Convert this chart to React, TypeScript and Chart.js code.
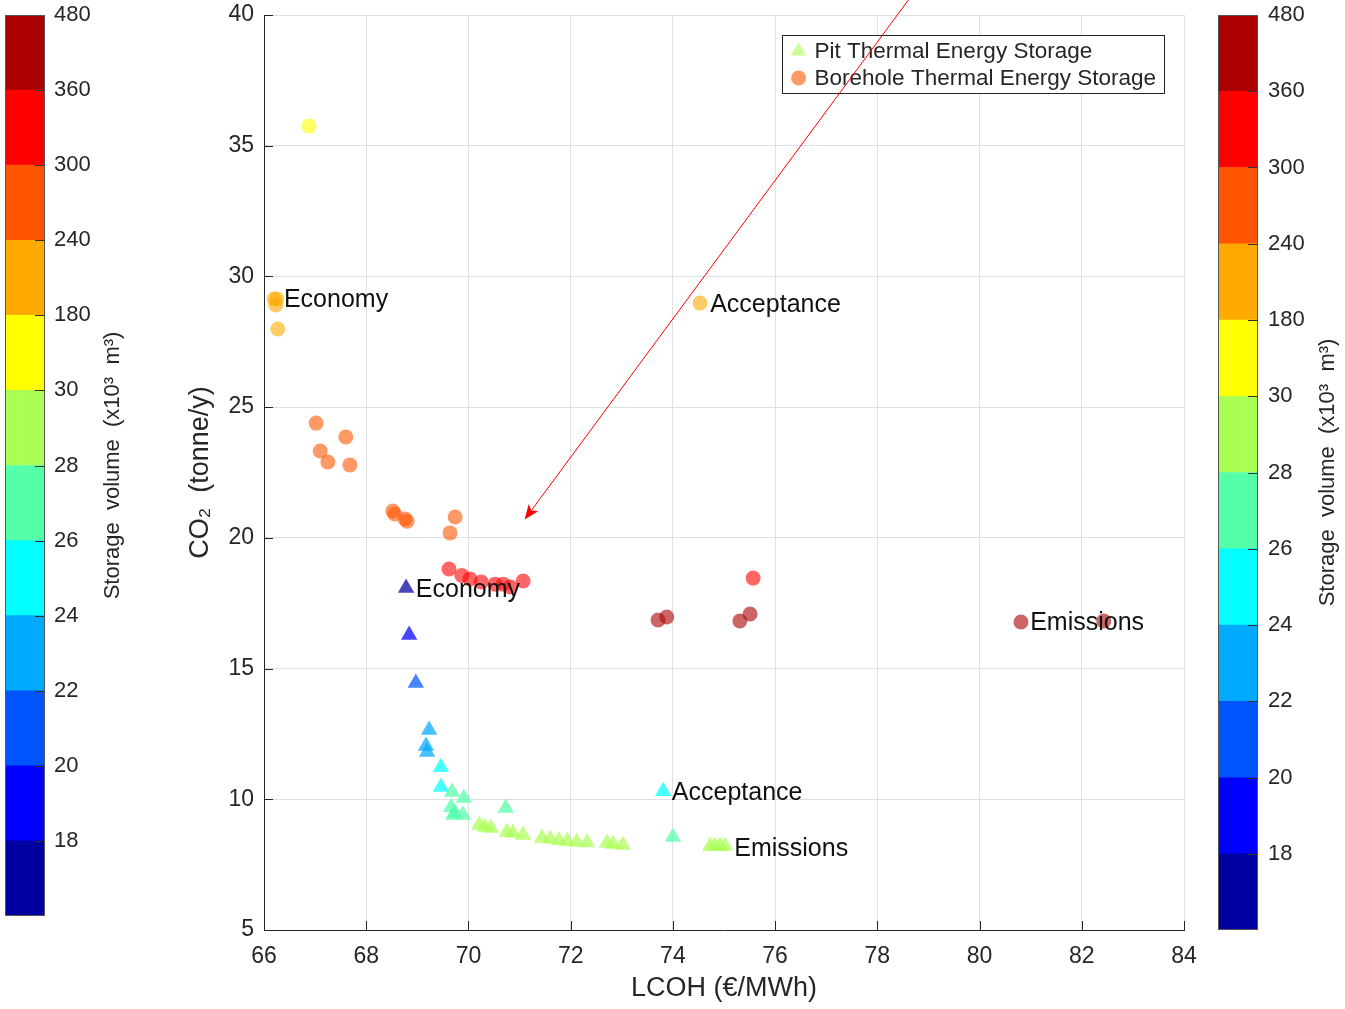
import React, { useEffect, useRef } from 'react';
import { Chart, registerables } from 'chart.js';

Chart.register(...registerables);

const FONT = '"Liberation Sans", Arial, Helvetica, sans-serif';
const TEXT = '#262626';

// Colour bins of the storage-volume colour bar (bottom to top)
const binColors = ['#0000A0', '#0000FF', '#0055FF', '#00AAFF', '#00FFFF', '#55FFAA', '#AAFF55', '#FFFF00', '#FFAA00', '#FF5500', '#FF0000', '#AA0000'];
const colorbarTickLabels = ['', '18', '20', '22', '24', '26', '28', '30', '180', '240', '300', '360', '480'];
const colorbarTitle = 'Storage  volume  (x10\u00B3  m\u00B3)';

// Pit Thermal Energy Storage (triangles)
const ptesX = [68.78, 68.84, 68.97, 69.23, 69.17, 69.19, 69.46, 69.46, 69.68, 69.91, 69.66, 69.74, 69.89, 69.70, 70.73, 70.21, 70.32, 70.44, 70.75, 70.87, 71.07, 71.44, 71.60, 71.77, 71.93, 72.12, 72.32, 72.71, 72.83, 73.02, 73.81, 74.00, 74.73, 74.82, 74.92, 75.02];
const ptesY = [18.08, 16.28, 14.45, 12.65, 12.04, 11.81, 11.23, 10.47, 10.28, 10.05, 9.70, 9.47, 9.40, 9.40, 9.67, 9.02, 8.94, 8.90, 8.75, 8.71, 8.63, 8.52, 8.48, 8.42, 8.40, 8.37, 8.35, 8.33, 8.29, 8.25, 10.31, 8.56, 8.21, 8.21, 8.21, 8.21];
const ptesBin = [0, 1, 2, 3, 3, 3, 4, 4, 5, 5, 5, 5, 5, 5, 5, 6, 6, 6, 6, 6, 6, 6, 6, 6, 6, 6, 6, 6, 6, 6, 4, 5, 6, 6, 6, 6];

// Borehole Thermal Energy Storage (circles)
const btesX = [66.88, 66.20, 66.25, 66.23, 66.27, 74.53, 67.02, 67.60, 67.10, 67.25, 67.68, 68.52, 68.56, 68.76, 68.80, 69.74, 69.64, 69.62, 69.87, 70.03, 70.25, 70.52, 70.68, 70.82, 71.07, 75.57, 73.71, 73.88, 75.31, 75.51, 80.81, 82.43];
const btesY = [35.75, 29.14, 29.14, 28.91, 27.99, 28.98, 24.39, 23.86, 23.32, 22.90, 22.79, 21.03, 20.91, 20.72, 20.64, 20.80, 20.19, 18.81, 18.56, 18.43, 18.31, 18.23, 18.23, 18.12, 18.35, 18.46, 16.86, 16.97, 16.82, 17.09, 16.78, 16.82];
const btesBin = [7, 8, 8, 8, 8, 8, 9, 9, 9, 9, 9, 9, 9, 9, 9, 9, 9, 10, 10, 10, 10, 10, 10, 10, 10, 10, 11, 11, 11, 11, 11, 11];

// Text annotations (left edge / vertical middle, data coordinates)
const labelTexts = ['Economy', 'Acceptance', 'Economy', 'Emissions', 'Acceptance', 'Emissions'];
const labelX = [66.39, 74.73, 68.97, 80.99, 73.98, 75.20];
const labelY = [29.08, 28.92, 18.00, 16.74, 10.22, 8.08];

// Red arrow (data coordinates)
const arrowFrom = [78.64, 40.66];
const arrowTo = [71.10, 20.70];

const legendLabels = ['Pit Thermal Energy Storage', 'Borehole Thermal Energy Storage'];

const rgba = (hex: string, a: number) => {
  const n = parseInt(hex.slice(1), 16);
  return `rgba(${(n >> 16) & 255},${(n >> 8) & 255},${n & 255},${a})`;
};

function drawTriangle(ctx: CanvasRenderingContext2D, cx: number, cy: number, r: number) {
  ctx.beginPath();
  ctx.moveTo(cx, cy - r);
  ctx.lineTo(cx + r * Math.sin(Math.PI / 3), cy + r / 2);
  ctx.lineTo(cx - r * Math.sin(Math.PI / 3), cy + r / 2);
  ctx.closePath();
  ctx.fill();
}

const zeroPad = (s: any) => {
  s.paddingTop = 0;
  s.paddingBottom = 0;
  s.paddingLeft = 0;
  s.paddingRight = 0;
};

function MainChart() {
  const ref = useRef<HTMLCanvasElement>(null);
  useEffect(() => {
    const decor = {
      id: 'mainDecor',
      afterDraw(chart: any) {
        const { ctx, chartArea: a, scales } = chart;
        const xs = scales.x;
        const ys = scales.y;
        ctx.save();
        // inward tick marks
        ctx.strokeStyle = TEXT;
        ctx.lineWidth = 1;
        ctx.beginPath();
        xs.ticks.forEach((t: any) => {
          const px = Math.round(xs.getPixelForValue(t.value)) + 0.5;
          ctx.moveTo(px, a.bottom);
          ctx.lineTo(px, a.bottom - 9);
        });
        ys.ticks.forEach((t: any) => {
          const py = Math.round(ys.getPixelForValue(t.value)) + 0.5;
          ctx.moveTo(a.left, py);
          ctx.lineTo(a.left + 9, py);
        });
        ctx.stroke();

        // text annotations
        ctx.font = `25px ${FONT}`;
        ctx.fillStyle = '#111111';
        ctx.textAlign = 'left';
        ctx.textBaseline = 'middle';
        labelTexts.forEach((s, i) => {
          ctx.fillText(s, xs.getPixelForValue(labelX[i]), ys.getPixelForValue(labelY[i]));
        });

        // legend box
        ctx.font = `22.5px ${FONT}`;
        const tw = Math.max(...legendLabels.map((s) => ctx.measureText(s).width));
        const boxW = 33 + tw + 8;
        const boxH = 58;
        const bx = a.right - 20 - boxW;
        const by = a.top + 20;
        ctx.fillStyle = '#ffffff';
        ctx.fillRect(bx, by, boxW, boxH);
        ctx.strokeStyle = TEXT;
        ctx.strokeRect(Math.round(bx) + 0.5, Math.round(by) + 0.5, Math.round(boxW), Math.round(boxH));
        ctx.fillStyle = rgba(binColors[6], 0.6);
        drawTriangle(ctx, bx + 17, by + 16, 9);
        ctx.fillStyle = rgba(binColors[9], 0.6);
        ctx.beginPath();
        ctx.arc(bx + 17, by + 43, 7.5, 0, Math.PI * 2);
        ctx.fill();
        ctx.fillStyle = TEXT;
        ctx.textBaseline = 'middle';
        ctx.fillText(legendLabels[0], bx + 33, by + 17);
        ctx.fillText(legendLabels[1], bx + 33, by + 44);

        // red arrow
        const x0 = xs.getPixelForValue(arrowFrom[0]);
        const y0 = ys.getPixelForValue(arrowFrom[1]);
        const x1 = xs.getPixelForValue(arrowTo[0]);
        const y1 = ys.getPixelForValue(arrowTo[1]);
        const ang = Math.atan2(y1 - y0, x1 - x0);
        const headL = 15;
        const headW = 6;
        ctx.strokeStyle = '#FF0000';
        ctx.fillStyle = '#FF0000';
        ctx.lineWidth = 1;
        ctx.beginPath();
        ctx.moveTo(x0, y0);
        ctx.lineTo(x1 - Math.cos(ang) * headL * 0.8, y1 - Math.sin(ang) * headL * 0.8);
        ctx.stroke();
        ctx.beginPath();
        ctx.moveTo(x1, y1);
        ctx.lineTo(x1 - Math.cos(ang) * headL + Math.sin(ang) * headW, y1 - Math.sin(ang) * headL - Math.cos(ang) * headW);
        ctx.lineTo(x1 - Math.cos(ang) * headL * 0.75, y1 - Math.sin(ang) * headL * 0.75);
        ctx.lineTo(x1 - Math.cos(ang) * headL - Math.sin(ang) * headW, y1 - Math.sin(ang) * headL + Math.cos(ang) * headW);
        ctx.closePath();
        ctx.fill();
        ctx.restore();
      },
    };

    const chart = new Chart(ref.current as HTMLCanvasElement, {
      type: 'scatter',
      data: {
        datasets: [
          {
            label: legendLabels[0],
            data: ptesX.map((x, i) => ({ x, y: ptesY[i] })),
            pointStyle: 'triangle',
            pointRadius: 9.5,
            pointBorderWidth: 0,
            pointBackgroundColor: ptesBin.map((b) => rgba(binColors[b], 0.72)),
            pointBorderColor: 'rgba(0,0,0,0)',
          },
          {
            label: legendLabels[1],
            data: btesX.map((x, i) => ({ x, y: btesY[i] })),
            pointStyle: 'circle',
            pointRadius: 7.5,
            pointBorderWidth: 0,
            pointBackgroundColor: btesBin.map((b) => rgba(binColors[b], 0.6)),
            pointBorderColor: 'rgba(0,0,0,0)',
          },
        ],
      },
      options: {
        responsive: false,
        animation: false,
        layout: { padding: { left: 164, top: 15, right: 161, bottom: 0 } },
        plugins: { legend: { display: false }, tooltip: { enabled: false } },
        scales: {
          x: {
            type: 'linear',
            min: 66,
            max: 84,
            ticks: { stepSize: 2, color: TEXT, font: { family: FONT, size: 23 }, padding: 13 },
            grid: { color: '#e0e0e0', drawTicks: false },
            border: { display: true, color: TEXT, width: 1 },
            title: { display: true, text: 'LCOH (\u20AC/MWh)', color: TEXT, font: { family: FONT, size: 27 }, padding: { top: 0, bottom: 4 } },
            afterFit: (s: any) => { s.height = 79; zeroPad(s); },
          },
          y: {
            type: 'linear',
            min: 5,
            max: 40,
            ticks: { stepSize: 5, color: TEXT, font: { family: FONT, size: 23 }, padding: 10 },
            grid: { color: '#e0e0e0', drawTicks: false },
            border: { display: true, color: TEXT, width: 1 },
            title: { display: true, text: 'CO\u2082  (tonne/y)', color: TEXT, font: { family: FONT, size: 27 }, padding: { top: 20, bottom: 0 } },
            afterFit: (s: any) => { s.width = 100; zeroPad(s); },
          },
        },
      },
      plugins: [decor],
    } as any);
    return () => chart.destroy();
  }, []);
  return <canvas ref={ref} width={1345} height={1009} style={{ position: 'absolute', left: 0, top: 0 }} />;
}

function ColorBar({ side }: { side: 'left' | 'right' }) {
  const ref = useRef<HTMLCanvasElement>(null);
  const cfg = side === 'left'
    ? { canvasLeft: 0, width: 150, padLeft: 5, padBottom: 93, scaleWidth: 105, tickPad: 9, titleX: 113 }
    : { canvasLeft: 1200, width: 145, padLeft: 18, padBottom: 79, scaleWidth: 87, tickPad: 10, titleX: 128 };
  useEffect(() => {
    const decor = {
      id: 'cbDecor',
      afterDraw(chart: any) {
        const { ctx, chartArea: a, scales } = chart;
        const ys = scales.y;
        ctx.save();
        ctx.strokeStyle = '#555555';
        ctx.lineWidth = 1;
        ctx.strokeRect(Math.round(a.left) + 0.5, Math.round(a.top) + 0.5, Math.round(a.right - a.left) - 1, Math.round(a.bottom - a.top) - 1);
        ctx.strokeStyle = '#333333';
        ctx.beginPath();
        for (let v = 1; v < binColors.length; v++) {
          const py = Math.round(ys.getPixelForValue(v)) + 0.5;
          ctx.moveTo(a.right - 10, py);
          ctx.lineTo(a.right, py);
        }
        ctx.stroke();
        ctx.translate(cfg.titleX, (a.top + a.bottom) / 2);
        ctx.rotate(-Math.PI / 2);
        ctx.font = `22px ${FONT}`;
        ctx.fillStyle = TEXT;
        ctx.textAlign = 'center';
        ctx.textBaseline = 'middle';
        ctx.fillText(colorbarTitle, 0, 0);
        ctx.restore();
      },
    };
    const chart = new Chart(ref.current as HTMLCanvasElement, {
      type: 'bar',
      data: {
        labels: [''],
        datasets: binColors.map((c) => ({
          data: [1],
          backgroundColor: c,
          borderWidth: 0,
          barPercentage: 1,
          categoryPercentage: 1,
        })),
      },
      options: {
        responsive: false,
        animation: false,
        layout: { padding: { left: cfg.padLeft, top: 15, right: 0, bottom: cfg.padBottom } },
        plugins: { legend: { display: false }, tooltip: { enabled: false } },
        scales: {
          x: { display: false, stacked: true },
          y: {
            stacked: true,
            position: 'right',
            min: 0,
            max: binColors.length,
            ticks: {
              stepSize: 1,
              color: TEXT,
              font: { family: FONT, size: 22 },
              padding: cfg.tickPad,
              callback: (v: any) => colorbarTickLabels[Math.round(v)] ?? '',
            },
            grid: { display: false, drawTicks: false },
            border: { display: false },
            afterFit: (s: any) => { s.width = cfg.scaleWidth; zeroPad(s); },
          },
        },
      },
      plugins: [decor],
    } as any);
    return () => chart.destroy();
  }, []);
  return <canvas ref={ref} width={cfg.width} height={1009} style={{ position: 'absolute', left: cfg.canvasLeft, top: 0 }} />;
}

export default function App() {
  return (
    <div style={{ position: 'fixed', left: 0, top: 0, width: 1345, height: 1009, background: '#ffffff', overflow: 'hidden' }}>
      <MainChart />
      <ColorBar side="left" />
      <ColorBar side="right" />
    </div>
  );
}
